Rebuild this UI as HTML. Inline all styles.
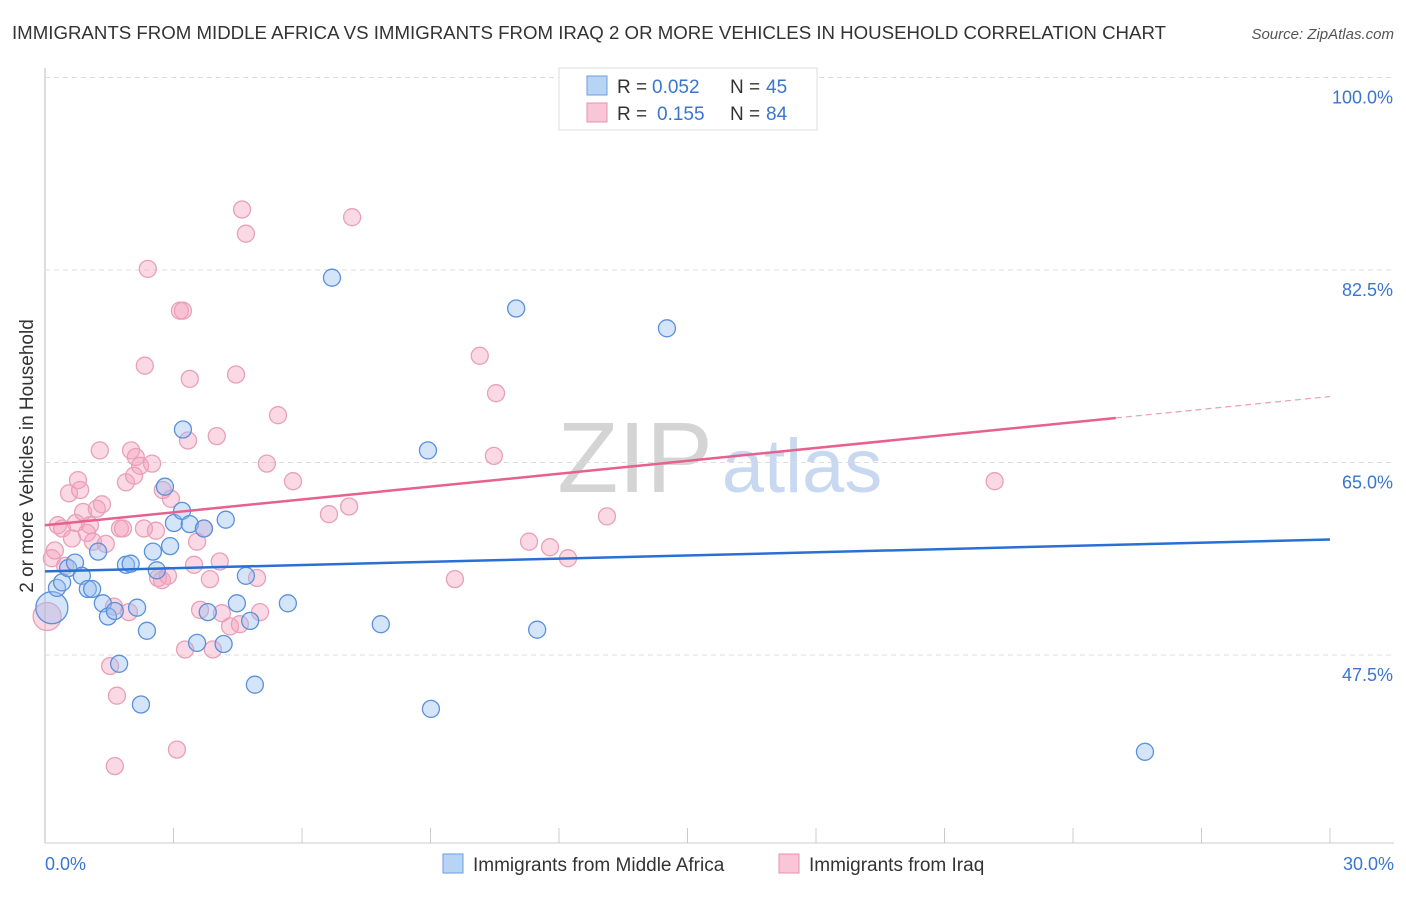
<!DOCTYPE html>
<html><head><meta charset="utf-8"><style>
body{margin:0;background:#fff;font-family:"Liberation Sans",sans-serif}
svg text{font-family:"Liberation Sans",sans-serif}
</style></head><body>
<svg id="chart" width="1406" height="892" xmlns="http://www.w3.org/2000/svg">
<text x="12" y="39" font-size="18" fill="#333" textLength="1154" lengthAdjust="spacingAndGlyphs">IMMIGRANTS FROM MIDDLE AFRICA VS IMMIGRANTS FROM IRAQ 2 OR MORE VEHICLES IN HOUSEHOLD CORRELATION CHART</text>
<text x="1394" y="39" font-size="15" fill="#555" font-style="italic" text-anchor="end">Source: ZipAtlas.com</text>
<text x="33" y="456" font-size="19" fill="#333" text-anchor="middle" transform="rotate(-90 33 456)">2 or more Vehicles in Household</text>
<text x="635" y="492" font-size="100" fill="#d4d4d4" font-family="Liberation Serif" text-anchor="middle">ZIP</text>
<text x="802" y="492" font-size="76" fill="#c8d8f0" text-anchor="middle">atlas</text>
<g id="grid"></g><g id="pts"></g><g id="trend"></g>
<g>
<rect x="559" y="68" width="258" height="62" fill="#fff" stroke="#ddd"/>
<rect x="587" y="76" width="20" height="19" fill="#b8d4f4" stroke="#6a9ee0"/>
<text x="617" y="93" font-size="19" fill="#333">R =</text>
<text x="652" y="93" font-size="19" fill="#3a75d0">0.052</text>
<text x="730" y="93" font-size="19" fill="#333">N =</text>
<text x="766" y="93" font-size="19" fill="#3a75d0">45</text>
<rect x="587" y="103" width="20" height="19" fill="#f8c6d6" stroke="#e890b0"/>
<text x="617" y="120" font-size="19" fill="#333">R =</text>
<text x="657" y="120" font-size="19" fill="#3a75d0">0.155</text>
<text x="730" y="120" font-size="19" fill="#333">N =</text>
<text x="766" y="120" font-size="19" fill="#3a75d0">84</text>
</g>
<g>
<rect x="443" y="854" width="20" height="19" fill="#b8d4f4" stroke="#6a9ee0"/>
<text x="473" y="871" font-size="19" fill="#333">Immigrants from Middle Africa</text>
<rect x="779" y="854" width="20" height="19" fill="#f8c6d6" stroke="#e890b0"/>
<text x="809" y="871" font-size="19" fill="#333">Immigrants from Iraq</text>
</g>
<text x="45" y="870" font-size="18" fill="#3a75d0">0.0%</text>
<text x="1394" y="870" font-size="18" fill="#3a75d0" text-anchor="end">30.0%</text>
</svg>
<script>
const yTicks=[100,82.5,65,47.5];
const blueX=[0.16,0.28,0.4,0.54,0.7,0.86,1.0,1.1,1.24,1.35,1.47,1.63,1.73,1.89,2.0,2.15,2.24,2.38,2.52,2.61,2.8,2.92,3.01,3.2,3.22,3.38,3.55,3.71,3.8,4.17,4.22,4.48,4.69,4.79,4.9,5.67,6.7,7.84,8.94,9.01,11.0,11.49,14.52,25.68];
const blueY=[51.8,53.6,54.1,55.4,55.9,54.7,53.5,53.5,56.9,52.2,51.0,51.5,46.7,55.7,55.8,51.8,43.0,49.7,56.9,55.2,62.8,57.4,59.5,60.6,68.0,59.4,48.6,59.0,51.4,48.5,59.8,52.2,54.7,50.6,44.8,52.2,81.8,50.3,66.1,42.6,79.0,49.8,77.2,38.7];
const pinkX=[0.05,0.16,0.23,0.3,0.4,0.47,0.56,0.63,0.72,0.77,0.82,0.89,0.98,1.05,1.12,1.21,1.28,1.33,1.42,1.52,1.61,1.68,1.63,1.75,1.82,1.89,1.96,2.01,2.08,2.12,2.22,2.31,2.33,2.4,2.5,2.59,2.64,2.73,2.75,2.87,2.94,3.08,3.15,3.22,3.27,3.34,3.38,3.48,3.55,3.62,3.71,3.85,3.92,4.01,4.08,4.13,4.32,4.46,4.55,4.6,4.69,4.95,5.02,5.18,5.44,5.79,6.63,7.1,7.17,9.57,10.15,10.48,10.53,11.3,11.79,12.21,13.12,22.17];
const pinkY=[51.0,56.3,57.0,59.3,59.0,55.6,62.2,58.1,59.5,63.4,62.5,60.5,58.6,59.3,57.8,60.8,66.1,61.2,57.6,46.5,51.9,43.8,37.4,59.0,59.0,63.2,51.4,66.1,63.8,65.5,64.7,59.0,73.8,82.6,64.9,58.8,54.5,54.3,62.5,54.7,61.7,38.9,78.8,78.8,48.0,67.0,72.6,55.7,57.8,51.6,59.0,54.4,48.0,67.4,56.0,51.3,50.1,73.0,50.3,88.0,85.8,54.5,51.4,64.9,69.3,63.3,60.3,61.0,87.3,54.4,74.7,65.6,71.3,57.8,57.3,56.3,60.1,63.3];
const blueTrend=[55.1,58.0];
const pinkTrend=[59.3,71.0];
const NS='http://www.w3.org/2000/svg';
const X=v=>45+v/30*1285, Y=v=>77.5+(100-v)*11;
function mk(t,a,p){const e=document.createElementNS(NS,t);for(const k in a)e.setAttribute(k,a[k]);p.appendChild(e);return e;}
const grid=document.getElementById('grid');
mk('line',{x1:45,y1:68,x2:45,y2:843,stroke:'#bbb'},grid);
mk('line',{x1:45,y1:843,x2:1394,y2:843,stroke:'#ccc'},grid);
for(let i=1;i<=10;i++){const l=mk('line',{x1:X(i*3),y1:828,x2:X(i*3),y2:843,stroke:'#ccc'},grid);}
yTicks.forEach(t=>{const l=mk('line',{x1:45,y1:Y(t),x2:1394,y2:Y(t),stroke:'#ddd','stroke-dasharray':'5,4'},grid);


const tx=mk('text',{x:1393,y:Y(t)+26,'font-size':18,fill:'#3a75d0','text-anchor':'end'},grid);tx.textContent=t.toFixed(1)+'%';

});
const pts=document.getElementById('pts');
pinkX.forEach((x,i)=>{const c=mk('circle',{cx:X(x),cy:Y(pinkY[i]),r:i==0?14:8.5,fill:'rgba(244,160,188,0.4)',stroke:'#e8a0b8','stroke-width':1.3},pts);

});
blueX.forEach((x,i)=>{const c=mk('circle',{cx:X(x),cy:Y(blueY[i]),r:i==0?16:8.5,fill:'rgba(150,190,240,0.4)',stroke:'#5a90dc','stroke-width':1.3},pts);

});
const tr=document.getElementById('trend');
const b=mk('line',{x1:X(0),y1:Y(blueTrend[0]),x2:X(30),y2:Y(blueTrend[1]),stroke:'#2a6fd6','stroke-width':2.5},tr);


const pe=v=>pinkTrend[0]+(pinkTrend[1]-pinkTrend[0])*v/30;
const p=mk('line',{x1:X(0),y1:Y(pe(0)),x2:X(25),y2:Y(pe(25)),stroke:'#e8608e','stroke-width':2.5},tr);


const pd=mk('line',{x1:X(25),y1:Y(pe(25)),x2:X(30),y2:Y(pe(30)),stroke:'#e8a0b8','stroke-width':1.2,'stroke-dasharray':'6,4'},tr);


</script>
</body></html>
